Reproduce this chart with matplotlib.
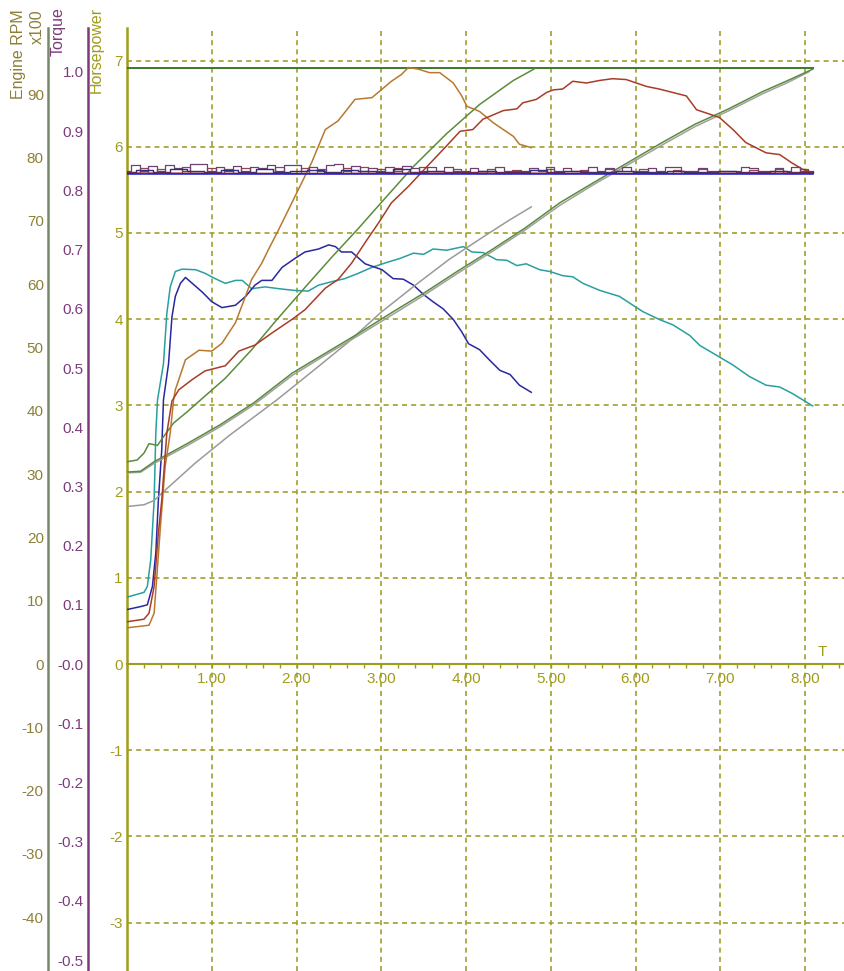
import numpy as np
import matplotlib
matplotlib.use('Agg')
import matplotlib.pyplot as plt
from matplotlib.ticker import FixedLocator, MultipleLocator, FuncFormatter

plt.rcParams['font.family'] = ['Liberation Sans', 'DejaVu Sans']

# ---------------- data ----------------
# Horsepower, run A (short run)
hpA_t = [0, 0.26, 0.32, 0.355, 0.395, 0.45, 0.51, 0.55, 0.57, 0.69, 0.85, 1.00, 1.12, 1.28, 1.40,
         1.47, 1.59, 1.67, 1.79, 2.02, 2.18, 2.34, 2.49, 2.69, 2.89, 3.12, 3.24, 3.32, 3.44, 3.57,
         3.69, 3.85, 3.95, 4.01, 4.16, 4.32, 4.44, 4.56, 4.63, 4.77]
hpA_v = [0.42, 0.45, 0.59, 1.06, 1.60, 2.29, 2.68, 3.07, 3.18, 3.53, 3.64, 3.63, 3.72, 3.96, 4.27,
         4.46, 4.65, 4.81, 5.04, 5.50, 5.82, 6.20, 6.30, 6.55, 6.57, 6.76, 6.84, 6.92, 6.90, 6.86,
         6.86, 6.74, 6.59, 6.47, 6.41, 6.28, 6.20, 6.12, 6.03, 5.99]

# Horsepower, run B (long run)
hpB_t = [0, 0.20, 0.26, 0.32, 0.37, 0.41, 0.47, 0.53, 0.61, 0.77, 0.92, 1.16, 1.32, 1.51, 1.71,
         1.95, 2.10, 2.34, 2.49, 2.65, 2.81, 2.97, 3.12, 3.32, 3.52, 3.77, 3.93, 4.08, 4.20, 4.44,
         4.60, 4.67, 4.83, 4.95, 5.03, 5.14, 5.26, 5.42, 5.58, 5.73, 5.89, 6.01, 6.13, 6.28, 6.44,
         6.60, 6.72, 6.87, 6.99, 7.15, 7.30, 7.54, 7.70, 7.85, 7.97, 8.09]
hpB_v = [0.49, 0.52, 0.59, 0.90, 1.52, 1.90, 2.68, 3.05, 3.18, 3.30, 3.40, 3.46, 3.63, 3.70, 3.84,
         4.00, 4.11, 4.36, 4.46, 4.65, 4.89, 5.12, 5.35, 5.54, 5.75, 6.01, 6.18, 6.20, 6.32, 6.42,
         6.44, 6.51, 6.55, 6.63, 6.66, 6.67, 6.76, 6.74, 6.77, 6.79, 6.78, 6.74, 6.70, 6.67, 6.63,
         6.59, 6.43, 6.38, 6.34, 6.20, 6.05, 5.93, 5.91, 5.81, 5.74, 5.70]

# Torque, run A
tqA_t = [0, 0.16, 0.24, 0.30, 0.34, 0.37, 0.41, 0.43, 0.49, 0.53, 0.57, 0.63, 0.69, 0.77, 0.89,
         1.00, 1.12, 1.28, 1.40, 1.51, 1.59, 1.71, 1.83, 1.98, 2.10, 2.26, 2.38, 2.46, 2.53, 2.65,
         2.81, 3.01, 3.14, 3.26, 3.38, 3.50, 3.61, 3.73, 3.85, 3.95, 4.03, 4.16, 4.28, 4.40, 4.52,
         4.63, 4.77]
tqA_v = [0.092, 0.097, 0.100, 0.131, 0.188, 0.276, 0.362, 0.446, 0.507, 0.586, 0.621, 0.643, 0.653,
         0.643, 0.628, 0.612, 0.602, 0.606, 0.621, 0.640, 0.648, 0.648, 0.670, 0.685, 0.696, 0.701,
         0.708, 0.705, 0.696, 0.696, 0.676, 0.666, 0.651, 0.650, 0.640, 0.624, 0.612, 0.600, 0.582,
         0.561, 0.541, 0.531, 0.513, 0.496, 0.489, 0.471, 0.459]

# Torque, run B
tqB_t = [0, 0.20, 0.24, 0.28, 0.32, 0.34, 0.36, 0.43, 0.47, 0.51, 0.57, 0.65, 0.81, 0.92, 1.04,
         1.16, 1.28, 1.36, 1.47, 1.63, 1.79, 1.98, 2.14, 2.26, 2.42, 2.57, 2.73, 2.89, 3.08, 3.22,
         3.38, 3.50, 3.61, 3.77, 3.97, 4.07, 4.20, 4.36, 4.48, 4.60, 4.71, 4.87, 4.99, 5.14, 5.26,
         5.38, 5.58, 5.81, 5.97, 6.09, 6.28, 6.44, 6.64, 6.76, 6.95, 7.15, 7.34, 7.54, 7.70, 7.85,
         8.01, 8.09]
tqB_v = [0.113, 0.121, 0.131, 0.176, 0.276, 0.390, 0.446, 0.507, 0.592, 0.637, 0.663, 0.667, 0.666,
         0.660, 0.651, 0.643, 0.648, 0.648, 0.634, 0.637, 0.634, 0.631, 0.630, 0.640, 0.646, 0.651,
         0.660, 0.670, 0.679, 0.685, 0.694, 0.692, 0.701, 0.699, 0.705, 0.696, 0.695, 0.683, 0.682,
         0.673, 0.676, 0.666, 0.663, 0.656, 0.654, 0.643, 0.631, 0.621, 0.606, 0.595, 0.582, 0.573,
         0.555, 0.538, 0.522, 0.505, 0.486, 0.471, 0.468, 0.457, 0.443, 0.436]

# Engine RPM (x100), run A
rpmA_t = [0, 0.12, 0.20, 0.26, 0.36, 0.43, 0.55, 0.71, 0.87, 1.16, 1.47, 1.75, 2.14, 2.42, 2.73,
          2.99, 3.38, 3.77, 4.16, 4.56, 4.80]
rpmA_v = [31.96, 32.23, 33.32, 34.82, 34.54, 35.90, 38.08, 39.85, 41.75, 45.15, 49.64, 54.13,
          60.11, 64.33, 68.82, 72.76, 78.61, 83.78, 88.40, 92.21, 93.98]

# Engine RPM (x100), run B
rpmB_t = [0, 0.16, 0.32, 0.71, 1.10, 1.49, 1.95, 2.34, 2.73, 3.12, 3.52, 3.91, 4.30, 4.69, 5.11,
          5.50, 5.90, 6.30, 6.70, 7.10, 7.50, 7.80, 8.09]
rpmB_v = [30.33, 30.46, 31.96, 34.82, 37.81, 41.21, 45.97, 49.10, 52.22, 55.49, 58.75, 62.15,
          65.42, 68.82, 72.90, 76.02, 79.15, 82.28, 85.27, 87.72, 90.44, 92.21, 93.98]

# Gray traces (x100)
gray1_t = [0, 0.16, 0.32, 0.71, 1.10, 1.49, 1.95, 2.34, 2.73, 3.12, 3.52, 3.91, 4.30, 4.69, 5.11,
           5.50, 5.90, 6.30, 6.70, 7.10, 7.50, 7.80, 8.05]
gray1_v = [30.20, 30.30, 31.70, 34.50, 37.50, 40.90, 45.60, 48.80, 51.90, 55.10, 58.40, 61.80,
           65.10, 68.50, 72.50, 75.70, 78.80, 81.90, 84.90, 87.40, 90.10, 91.90, 93.60]
gray2_t = [0, 0.20, 0.32, 0.45, 0.80, 1.20, 1.77, 2.20, 2.60, 2.99, 3.40, 3.80, 4.20, 4.50, 4.77]
gray2_v = [24.89, 25.16, 25.84, 27.47, 31.69, 36.04, 41.75, 46.38, 50.73, 55.49, 59.84, 63.92,
           67.46, 70.04, 72.22]

# Engine RPM limit line (x100)
rpm_limit_t = [0, 8.09]
rpm_limit_v = [94.1, 94.1]

# Flat traces near 5.7 (horsepower scale)
purple_v = [5.72, 5.79, 5.72, 5.78, 5.72, 5.79, 5.75, 5.72, 5.80, 5.80, 5.72, 5.77, 5.72, 5.78,
            5.72, 5.77, 5.75, 5.79, 5.72, 5.79, 5.79, 5.72, 5.77, 5.72, 5.79, 5.80, 5.72, 5.78,
            5.72, 5.75, 5.72, 5.77, 5.72, 5.78, 5.75, 5.72, 5.77, 5.72, 5.76, 5.72, 5.72, 5.75,
            5.72, 5.72, 5.76, 5.72, 5.72, 5.72, 5.75, 5.72, 5.76, 5.72, 5.75, 5.72, 5.72, 5.76,
            5.72, 5.75, 5.72, 5.76, 5.72, 5.72, 5.75, 5.72, 5.76, 5.76, 5.72, 5.72, 5.75, 5.72,
            5.72, 5.72, 5.72, 5.76, 5.75, 5.72, 5.72, 5.75, 5.72, 5.76, 5.72, 5.72]
maroon_noisy_v = [5.70, 5.70, 5.75, 5.70, 5.74, 5.70, 5.70, 5.76, 5.70, 5.70, 5.75, 5.70, 5.74,
                  5.70, 5.75, 5.70, 5.70, 5.70, 5.76, 5.70, 5.70, 5.75, 5.70, 5.74, 5.70, 5.70,
                  5.75, 5.70, 5.76, 5.70, 5.74, 5.70, 5.75, 5.70, 5.70, 5.76, 5.70, 5.70, 5.70,
                  5.74, 5.70, 5.70, 5.70, 5.74, 5.70, 5.70, 5.73, 5.70, 5.70, 5.70, 5.74, 5.70,
                  5.70, 5.70, 5.73, 5.70, 5.70, 5.74, 5.70, 5.70, 5.70, 5.74, 5.70, 5.70, 5.70,
                  5.73, 5.70, 5.70, 5.74, 5.70, 5.70, 5.70, 5.70, 5.70, 5.73, 5.70, 5.70, 5.74,
                  5.70, 5.70, 5.74, 5.70]
navy_v = [5.71, 5.73, 5.71, 5.74, 5.72, 5.71, 5.73, 5.71, 5.74, 5.71, 5.72, 5.73, 5.71, 5.73,
          5.72, 5.71, 5.74, 5.71, 5.72, 5.71, 5.71, 5.72, 5.71, 5.71, 5.73, 5.71, 5.72, 5.71,
          5.71, 5.72, 5.71, 5.71, 5.72, 5.71, 5.71, 5.72, 5.71, 5.71, 5.72, 5.71, 5.71]
maroon_flat_v = [5.695, 5.69, 5.695, 5.69, 5.695]
blue_flat_v = [5.68, 5.68]
flat_end_t = 8.09

# Tick values / labels
x_ticks = [1, 2, 3, 4, 5, 6, 7, 8]
hp_ticks = [7, 6, 5, 4, 3, 2, 1, 0, -1, -2, -3]
tq_ticks = [1.0, 0.9, 0.8, 0.7, 0.6, 0.5, 0.4, 0.3, 0.2, 0.1, 0.0, -0.1, -0.2, -0.3, -0.4, -0.5]
tq_labels = ['1.0', '0.9', '0.8', '0.7', '0.6', '0.5', '0.4', '0.3', '0.2', '0.1', '-0.0',
             '-0.1', '-0.2', '-0.3', '-0.4', '-0.5']
rpm_ticks = [90, 80, 70, 60, 50, 40, 30, 20, 10, 0, -10, -20, -30, -40]

# ---------------- style ----------------
HP_COL = '#a09c1c'
GRID_COL = '#a0a030'
TQ_COL = '#7c3c7c'
RPM_SPINE = '#78886a'
RPM_TEXT = '#8c8038'

W, H = 844, 971
fig = plt.figure(figsize=(W / 100, H / 100), dpi=100)
left_px, top_px = 127, 28
ax = fig.add_axes([left_px / W, 0, 1 - left_px / W, 1 - top_px / H])

hp_lo, hp_hi = -3.561, 7.378
tq_scale = 0.14561
rpm_scale = 13.62
ax.set_xlim(0, 8.46)
ax.set_ylim(hp_lo, hp_hi)

ax_t = ax.twinx()
ax_r = ax.twinx()
ax_t.set_ylim(hp_lo * tq_scale, hp_hi * tq_scale)
ax_r.set_ylim(hp_lo * rpm_scale, hp_hi * rpm_scale)

# main axis styling
for s in ['top', 'right']:
    ax.spines[s].set_visible(False)
ax.spines['left'].set_color(HP_COL)
ax.spines['left'].set_linewidth(1.8)
ax.spines['bottom'].set_position(('data', 0))
ax.spines['bottom'].set_color(HP_COL)
ax.spines['bottom'].set_linewidth(1.5)

ax.xaxis.set_major_locator(FixedLocator(x_ticks))
ax.xaxis.set_major_formatter(FuncFormatter(lambda v, p: f'{v:.2f}'))
ax.xaxis.set_minor_locator(MultipleLocator(0.2))
ax.tick_params(axis='x', which='both', direction='out', length=3, width=1,
               color=HP_COL, labelcolor=HP_COL, labelsize=11, pad=3)
ax.yaxis.set_major_locator(FixedLocator(hp_ticks))
ax.yaxis.set_major_formatter(FuncFormatter(lambda v, p: f'{int(round(v))}'))
ax.tick_params(axis='y', length=0, pad=3, labelcolor=HP_COL, labelsize=11)
ax.grid(True, which='major', color=GRID_COL, linestyle=(0, (3, 2.5)), linewidth=1.2)
ax.set_axisbelow(True)

for a, pos, scol, tcol, ticks in [(ax_t, -0.0544, TQ_COL, TQ_COL, tq_ticks),
                                   (ax_r, -0.1102, RPM_SPINE, RPM_TEXT, rpm_ticks)]:
    for s in ['top', 'right', 'bottom']:
        a.spines[s].set_visible(False)
    a.spines['left'].set_visible(True)
    a.spines['left'].set_position(('axes', pos))
    a.spines['left'].set_color(scol)
    a.spines['left'].set_linewidth(1.8)
    a.yaxis.set_ticks_position('left')
    a.yaxis.set_label_position('left')
    a.yaxis.set_major_locator(FixedLocator(ticks))
    a.tick_params(axis='y', length=0, pad=3, labelcolor=tcol, labelsize=11)
    a.patch.set_visible(False)

ax_t.set_yticklabels(tq_labels)
ax_r.yaxis.set_major_formatter(FuncFormatter(lambda v, p: f'{int(round(v))}'))

ax.text(8.2, 0.06, 'T', color=HP_COL, fontsize=11, ha='center', va='bottom')

# axis titles
def ftext(xp, yp, s, col):
    fig.text(xp / W, 1 - yp / H, s, rotation=90, ha='center', va='top', color=col, fontsize=11.5)

ftext(19, 9, 'Engine RPM', RPM_TEXT)
ftext(37, 9, 'x100', RPM_TEXT)
ftext(58, 7, 'Torque', TQ_COL)
ftext(96, 7, 'Horsepower', HP_COL)

# ---------------- series ----------------
lw = 1.1
ax_r.plot(rpm_limit_t, rpm_limit_v, color='#3c7828', lw=1.4)
ax_r.plot(gray2_t, gray2_v, color='#9a9a9a', lw=lw)
ax_r.plot(gray1_t, gray1_v, color='#a0a0a0', lw=lw)
ax_r.plot(rpmB_t, rpmB_v, color='#5a8c3c', lw=lw)
ax_r.plot(rpmA_t, rpmA_v, color='#5a8c3c', lw=lw)

ax_t.plot(tqB_t, tqB_v, color='#28a0a0', lw=lw)
ax_t.plot(tqA_t, tqA_v, color='#2828a0', lw=lw)

# horsepower traces on top (own axes layer)
ax_h = ax.twinx()
ax_h.set_ylim(hp_lo, hp_hi)
ax_h.axis('off')
ax_h.plot(hpA_t, hpA_v, color='#b87830', lw=lw)
ax_h.plot(hpB_t, hpB_v, color='#a83c28', lw=lw)

t_flat_blue = np.linspace(0, flat_end_t, len(blue_flat_v))
t_flat_mar = np.linspace(0, flat_end_t, len(maroon_flat_v))
t_navy = np.linspace(0, flat_end_t, len(navy_v))
t_purple = np.linspace(0, flat_end_t, len(purple_v))
t_mnoisy = np.linspace(0, flat_end_t, len(maroon_noisy_v))
ax_h.plot(t_mnoisy, maroon_noisy_v, color='#8a3040', lw=0.9, drawstyle='steps-mid', alpha=0.9)
ax_h.plot(t_purple, purple_v, color='#704070', lw=0.9, drawstyle='steps-mid')
ax_h.plot(t_navy, navy_v, color='#303080', lw=1.0, drawstyle='steps-mid')
ax_h.plot(t_flat_mar, maroon_flat_v, color='#902828', lw=1.0)
ax_h.plot(t_flat_blue, blue_flat_v, color='#2020d0', lw=1.1)

fig.savefig('out.png', dpi=100)
